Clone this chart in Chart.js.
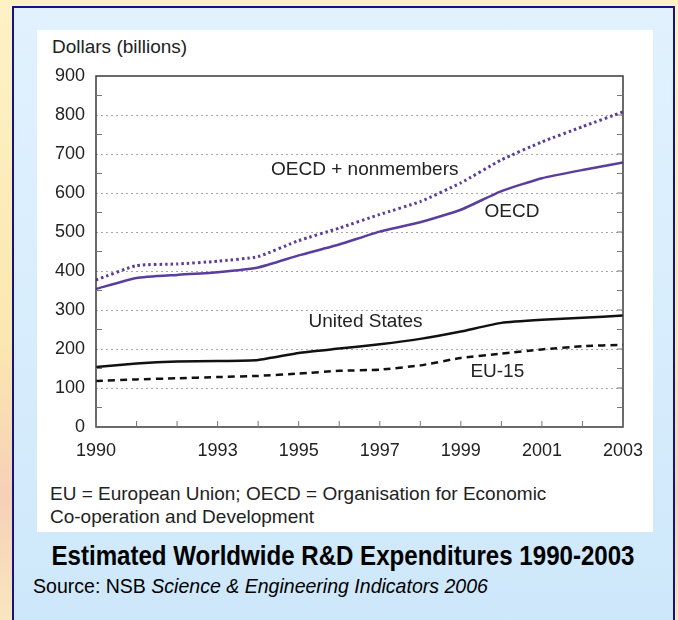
<!DOCTYPE html>
<html>
<head>
<meta charset="utf-8">
<script src="https://cdn.jsdelivr.net/npm/chart.js@4.4.1/dist/chart.umd.min.js"></script>
<style>
  html, body { margin: 0; padding: 0; }
  body {
    width: 678px; height: 620px; position: relative; overflow: hidden;
    background: linear-gradient(180deg, #fdf2c6 0%, #fbe7b0 55%, #f6d0b8 80%, #f8e6c0 100%);
    font-family: "Liberation Sans", Arial, sans-serif;
  }
  #panel {
    position: absolute; left: 12px; top: 6px; width: 659px; height: 620px;
    border-left: 2px solid #14148a; border-top: 2px solid #14148a; border-right: 2px solid #14148a;
    background: linear-gradient(180deg, #e1f1fe 0%, #d6ecfc 60%, #cde7fa 100%);
  }
  #box {
    position: absolute; left: 37px; top: 30px; width: 616px; height: 502px;
    background: #fff;
  }
  #ytitle { position: absolute; left: 52px; top: 37px; font-size: 19px; line-height: 1; color: #222; }
  #note { position: absolute; left: 50px; top: 482px; font-size: 19px; line-height: 23px; color: #222; }
  #title {
    position: absolute; left: 0; width: 686px; top: 542px; text-align: center;
    font-weight: bold; font-size: 28px; line-height: 1; color: #000;
    transform: scaleX(0.86); transform-origin: 343px 0;
  }
  #source {
    position: absolute; left: 33px; top: 575px; white-space: nowrap;
    font-size: 21px; line-height: 1; color: #000;
    transform: scaleX(0.93); transform-origin: 0 0;
  }
  #wrap { position: absolute; left: 37px; top: 60px; width: 606px; height: 400px; }
</style>
</head>
<body>
<div id="panel"></div>
<div id="box"></div>
<div id="ytitle">Dollars (billions)</div>
<div id="wrap"><canvas id="rdChart"></canvas></div>
<div id="note">EU = European Union; OECD = Organisation for Economic<br>Co-operation and Development</div>
<div id="title">Estimated Worldwide R&amp;D Expenditures 1990-2003</div>
<div id="source">Source: NSB <i>Science &amp; Engineering Indicators 2006</i></div>
<script>
// data (billions of dollars)
const tahun = [1990, 1991, 1992, 1993, 1994, 1995, 1996, 1997, 1998, 1999, 2000, 2001, 2002, 2003];
const oecdPlusNon = [377, 414, 418, 425, 437, 478, 510, 545, 578, 626, 685, 731, 770, 808];
const oecd = [354, 382, 390, 397, 409, 440, 468, 501, 525, 557, 605, 638, 659, 678];
const amerika = [154, 163, 168, 169, 172, 190, 201, 212, 226, 245, 267, 275, 280, 286];
const eu15 = [118, 122, 125, 128, 131, 137, 144, 147, 158, 177, 188, 199, 207, 211];
const labelTahun = [1990, 1993, 1995, 1997, 1999, 2001, 2003];
const labelY = [0, 100, 200, 300, 400, 500, 600, 700, 800, 900];

// series names written on the chart, anchored in data units
const namaSeri = [
  { teks: 'OECD + nonmembers', x: 1996.63, y: 659 },
  { teks: 'OECD', x: 2000.26, y: 552 },
  { teks: 'United States', x: 1996.65, y: 270 },
  { teks: 'EU-15', x: 1999.9, y: 142 }
];

function titik(arr) {
  return tahun.map((t, i) => ({ x: t, y: arr[i] }));
}

const bingkai = {
  id: 'bingkai',
  afterDraw(chart) {
    const c = chart.ctx;
    const a = chart.chartArea;
    const xs = chart.scales.x;
    const ys = chart.scales.y;
    c.save();
    c.strokeStyle = '#3a3a3a';
    c.lineWidth = 1.5;
    c.strokeRect(a.left, a.top, a.right - a.left, a.bottom - a.top);
    c.lineWidth = 1;
    c.strokeStyle = '#777';
    // inward ticks on bottom axis
    tahun.forEach(t => {
      const px = xs.getPixelForValue(t);
      c.beginPath(); c.moveTo(px, a.bottom); c.lineTo(px, a.bottom - 6); c.stroke();
    });
    // inward ticks on left and right (half steps)
    for (let v = 50; v < 900; v += 100) {
      const py = ys.getPixelForValue(v);
      c.beginPath(); c.moveTo(a.left, py); c.lineTo(a.left + 6, py); c.stroke();
      c.beginPath(); c.moveTo(a.right, py); c.lineTo(a.right - 6, py); c.stroke();
    }
    for (let v = 100; v < 900; v += 100) {
      const py = ys.getPixelForValue(v);
      c.beginPath(); c.moveTo(a.right, py); c.lineTo(a.right - 6, py); c.stroke();
    }
    // series names
    c.fillStyle = '#222';
    c.font = '19px "Liberation Sans", Arial, sans-serif';
    c.textAlign = 'center';
    c.textBaseline = 'middle';
    namaSeri.forEach(n => {
      c.fillText(n.teks, xs.getPixelForValue(n.x), ys.getPixelForValue(n.y));
    });
    c.restore();
  }
};

const ctx = document.getElementById('rdChart').getContext('2d');
const rdChart = new Chart(ctx, {
  type: 'line',
  data: {
    datasets: [
      { label: 'OECD + nonmembers', data: titik(oecdPlusNon), borderColor: '#5a3e9e', borderWidth: 3, borderDash: [2.5, 3], pointRadius: 0, tension: 0.15 },
      { label: 'OECD', data: titik(oecd), borderColor: '#5a3e9e', borderWidth: 2.5, pointRadius: 0, tension: 0.15 },
      { label: 'United States', data: titik(amerika), borderColor: '#111', borderWidth: 2.5, pointRadius: 0, tension: 0.15 },
      { label: 'EU-15', data: titik(eu15), borderColor: '#111', borderWidth: 2.5, borderDash: [7, 5], pointRadius: 0, tension: 0.15 }
    ]
  },
  options: {
    responsive: true,
    maintainAspectRatio: false,
    animation: false,
    layout: { padding: { top: 16, right: 20, left: 0, bottom: 0 } },
    plugins: { legend: { display: false }, tooltip: { enabled: false } },
    scales: {
      x: {
        type: 'linear', min: 1990, max: 2003,
        afterFit(s) { s.height = 33; s.paddingLeft = 0; s.paddingRight = 0; },
        afterBuildTicks(s) { s.ticks = labelTahun.map(v => ({ value: v })); },
        ticks: { color: '#222', font: { size: 18, family: '"Liberation Sans", Arial' }, padding: 5, maxRotation: 0, autoSkip: false, callback: v => String(v) },
        grid: { display: false },
        border: { display: false }
      },
      y: {
        min: 0, max: 900,
        afterFit(s) { s.width = 59; s.paddingTop = 0; s.paddingBottom = 0; },
        afterBuildTicks(s) { s.ticks = labelY.map(v => ({ value: v })); },
        ticks: { color: '#222', font: { size: 18, family: '"Liberation Sans", Arial' }, padding: 11 },
        grid: {
          drawTicks: false,
          color: c => (c.tick && c.tick.value > 0 && c.tick.value < 900) ? '#a8a8a8' : 'transparent',
          lineWidth: 1
        },
        border: { display: false, dash: [2, 3] }
      }
    }
  },
  plugins: [bingkai]
});
</script>
</body>
</html>
